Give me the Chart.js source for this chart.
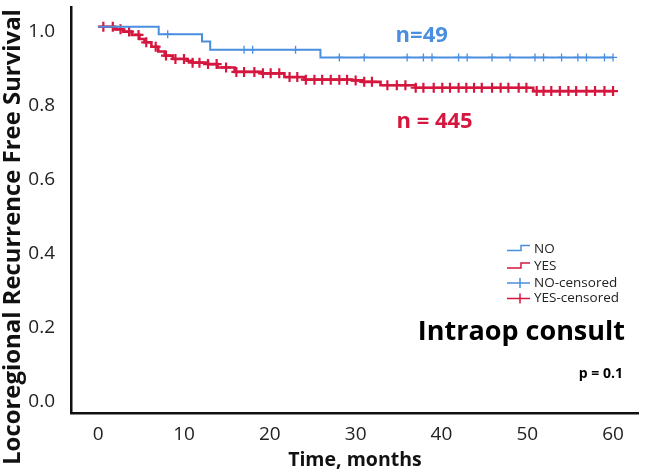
<!DOCTYPE html>
<html>
<head>
<meta charset="utf-8">
<script src="https://cdn.jsdelivr.net/npm/chart.js@4"></script>
<style>
  html, body { margin: 0; padding: 0; background: #fff; }
</style>
</head>
<body>
<canvas id="myChart" width="646" height="474"></canvas>
<script>
const xTicks = [0, 10, 20, 30, 40, 50, 60];
const yTicks = [0, 0.2, 0.4, 0.6, 0.8, 1.0];

// Kaplan-Meier steps: month of event, survival after it
const noTimes = [0, 7.05, 12.1, 13.05, 25.9, 60];
const noSurv = [1.0, 0.980, 0.960, 0.938, 0.917, 0.917];
const noCensored = [8.1, 17.0, 18.0, 23.0, 28.1, 31.0, 36.0, 37.9, 38.9, 42.0, 43.0, 45.9, 48.0, 50.9, 51.9, 54.0, 55.9, 56.9, 59.0, 60.0];

const yesTimes = [0, 1.9, 2.9, 3.9, 4.8, 5.4, 6.2, 7.0, 7.75, 8.7, 10.3, 11.0, 12.8, 13.9, 15.9, 19.0, 21.7, 24.0, 29.6, 30.8, 32.9, 37.0, 50.7, 60];
const yesSurv = [1.0, 0.993, 0.987, 0.978, 0.967, 0.958, 0.946, 0.933, 0.922, 0.913, 0.908, 0.903, 0.899, 0.890, 0.878, 0.874, 0.864, 0.857, 0.855, 0.851, 0.842, 0.835, 0.826, 0.826];
const yesCensored = [0.6, 1.7, 2.6, 3.6, 4.7, 5.6, 6.7, 7.9, 9.0, 10.0, 11.0, 11.8, 12.8, 13.8, 14.9, 16.1, 17.0, 18.2, 19.2, 20.1, 21.1, 22.3, 23.2, 24.2, 25.2, 26.1, 27.1, 28.1, 29.0, 30.0, 31.0, 31.9, 33.7, 34.8, 35.8, 37.0, 37.9, 39.1, 40.1, 41.0, 42.0, 42.9, 43.8, 44.7, 45.9, 46.9, 47.8, 49.0, 49.9, 51.1, 51.9, 52.8, 53.8, 54.8, 55.7, 56.9, 57.9, 59.0, 60.0];

const BLUE = '#4a8ee0';
const RED = '#d5173f';
const FONT = 'Open Sans';

function survAt(times, surv, t) {
  let s = surv[0];
  for (let i = 0; i < times.length; i++) {
    if (times[i] <= t) s = surv[i];
  }
  return s;
}

function stepData(times, surv) {
  return times.map((t, i) => ({ x: t, y: surv[i] }));
}

function censorData(times, surv, cens) {
  return cens.map((t) => ({ x: t, y: survAt(times, surv, t) }));
}

// no extra room for edge tick labels, keep plot box fixed
function noPad(s) {
  s.paddingTop = 0;
  s.paddingBottom = 0;
  s.paddingLeft = 0;
  s.paddingRight = 0;
}

// texts and legend drawn on top of the plot
const extras = {
  id: 'extras',
  afterDraw(chart) {
    const ctx = chart.ctx;
    const xs = chart.scales.x;
    const ys = chart.scales.y;
    ctx.save();

    // y axis title, sized to run almost the full height
    const yTitle = 'Locoregional Recurrence Free Survival';
    ctx.font = 'bold 20px "' + FONT + '"';
    const size = 20 * 456 / ctx.measureText(yTitle).width;
    ctx.font = 'bold ' + size.toFixed(2) + 'px "' + FONT + '"';
    ctx.fillStyle = '#111';
    ctx.textAlign = 'center';
    ctx.textBaseline = 'alphabetic';
    ctx.translate(20, 237);
    ctx.rotate(-Math.PI / 2);
    ctx.fillText(yTitle, 0, 0);
    ctx.setTransform(1, 0, 0, 1, 0, 0);

    // group labels
    ctx.textBaseline = 'middle';
    ctx.font = 'bold 22px "' + FONT + '"';
    ctx.fillStyle = BLUE;
    ctx.fillText('n=49', xs.getPixelForValue(37.7), ys.getPixelForValue(0.977));
    ctx.fillStyle = RED;
    ctx.fillText('n = 445', xs.getPixelForValue(39.2), ys.getPixelForValue(0.742));

    // title + p value
    ctx.fillStyle = '#000';
    ctx.textAlign = 'right';
    ctx.textBaseline = 'alphabetic';
    ctx.font = 'bold 27px "' + FONT + '"';
    ctx.fillText('Intraop consult', 625, 340);
    ctx.font = 'bold 14px "' + FONT + '"';
    ctx.fillText('p = 0.1', 623, 378);

    // legend
    const lx = 507, tx = 534;
    const items = [
      { text: 'NO', color: BLUE, kind: 'step', y: 249 },
      { text: 'YES', color: RED, kind: 'step', y: 266.5 },
      { text: 'NO-censored', color: BLUE, kind: 'cross', y: 283 },
      { text: 'YES-censored', color: RED, kind: 'cross', y: 298.5 }
    ];
    ctx.lineWidth = 1.5;
    items.forEach((it) => {
      ctx.strokeStyle = it.color;
      ctx.beginPath();
      if (it.kind === 'step') {
        ctx.moveTo(lx, it.y + 1.5);
        ctx.lineTo(lx + 14, it.y + 1.5);
        ctx.lineTo(lx + 14, it.y - 3.5);
        ctx.lineTo(lx + 23, it.y - 3.5);
      } else {
        ctx.moveTo(lx, it.y);
        ctx.lineTo(lx + 23, it.y);
        ctx.moveTo(lx + 13, it.y - 5);
        ctx.lineTo(lx + 13, it.y + 5);
      }
      ctx.stroke();
      ctx.fillStyle = '#222';
      ctx.font = '13.5px "' + FONT + '"';
      ctx.textAlign = 'left';
      ctx.textBaseline = 'middle';
      ctx.fillText(it.text, tx, it.y);
    });
    ctx.restore();
  }
};

function createChart() {
  const data = {
    datasets: [
      {
        label: 'NO',
        data: stepData(noTimes, noSurv),
        borderColor: BLUE,
        borderWidth: 2,
        stepped: 'before',
        pointRadius: 0,
        fill: false,
      },
      {
        label: 'YES',
        data: stepData(yesTimes, yesSurv),
        borderColor: RED,
        borderWidth: 2.6,
        stepped: 'before',
        pointRadius: 0,
        fill: false,
      },
      {
        label: 'NO-censored',
        type: 'scatter',
        data: censorData(noTimes, noSurv, noCensored),
        pointStyle: 'cross',
        pointRadius: 4,
        borderColor: BLUE,
        borderWidth: 1.3,
      },
      {
        label: 'YES-censored',
        type: 'scatter',
        data: censorData(yesTimes, yesSurv, yesCensored),
        pointStyle: 'cross',
        pointRadius: 5,
        borderColor: RED,
        borderWidth: 2.2,
      },
    ],
  };

  const config = {
    type: 'line',
    data: data,
    options: {
      responsive: false,
      animation: false,
      layout: { padding: { top: 7, right: 5, left: 0, bottom: 0 } },
      plugins: {
        legend: { display: false },
        tooltip: { enabled: false },
      },
      scales: {
        x: {
          type: 'linear',
          min: -3.17,
          max: 63,
          grid: { display: false },
          border: { display: true, color: '#111', width: 2.5 },
          ticks: { font: { family: FONT, size: 19 }, color: '#222', padding: 2 },
          afterBuildTicks: (s) => { s.ticks = xTicks.map((v) => ({ value: v })); },
          afterFit: (s) => { s.height = 61; noPad(s); },
          title: {
            display: true,
            text: 'Time, months',
            color: '#111',
            font: { family: FONT, size: 19.5, weight: 'bold' },
            padding: { top: 0, bottom: 2 },
          },
        },
        y: {
          type: 'linear',
          min: -0.045,
          max: 1.053,
          grid: { display: false },
          border: { display: true, color: '#111', width: 2.5 },
          ticks: {
            font: { family: FONT, size: 19 },
            color: '#222',
            padding: 8,
            labelOffset: 5,
            callback: (v) => v.toFixed(1),
          },
          afterBuildTicks: (s) => { s.ticks = yTicks.map((v) => ({ value: v })); },
          afterFit: (s) => { s.width = 71; noPad(s); },
        },
      },
    },
    plugins: [extras],
  };

  const ctx = document.getElementById('myChart').getContext('2d');
  return new Chart(ctx, config);
}

createChart();
</script>
</body>
</html>
